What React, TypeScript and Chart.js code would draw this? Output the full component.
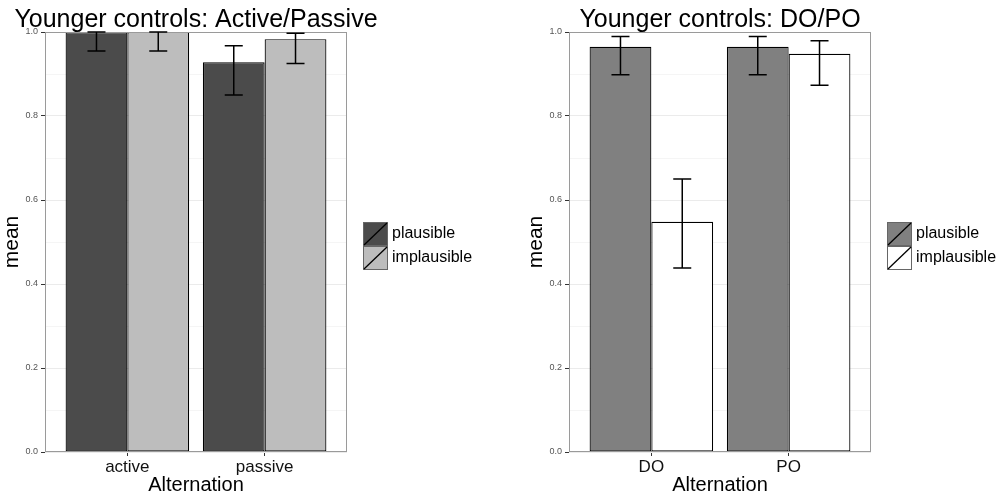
import React, { useEffect, useRef } from 'react';
import { Chart, registerables } from 'chart.js';

Chart.register(...registerables);

// ---------- data ----------
const seriesNames = ['plausible', 'implausible'];
const yTickValues = [0, 0.2, 0.4, 0.6, 0.8, 1.0];
const yMinorValues = [0.1, 0.3, 0.5, 0.7, 0.9];

// Panel 1: Active / Passive
const titleAP = 'Younger controls: Active/Passive';
const alternationAP = ['active', 'passive'];
const plausibleAP = [1.0, 0.928];
const plausibleAPLow = [0.955, 0.85];
const plausibleAPHigh = [1.0, 0.967];
const implausibleAP = [1.0, 0.983];
const implausibleAPLow = [0.955, 0.925];
const implausibleAPHigh = [1.0, 0.997];

// Panel 2: DO / PO
const titleDP = 'Younger controls: DO/PO';
const alternationDP = ['DO', 'PO'];
const plausibleDP = [0.965, 0.965];
const plausibleDPLow = [0.898, 0.898];
const plausibleDPHigh = [0.989, 0.989];
const implausibleDP = [0.548, 0.948];
const implausibleDPLow = [0.438, 0.873];
const implausibleDPHigh = [0.65, 0.979];

const FONT = '"Liberation Sans", Arial, Helvetica, sans-serif';

type PanelProps = {
  title: string;
  categories: string[];
  values: number[][];
  lows: number[][];
  highs: number[][];
  colors: string[];
  left: number;
  width: number;
};

const isMajor = (v: number) => Math.round(v * 10) % 2 === 0;

function Panel({ title, categories, values, lows, highs, colors, left, width }: PanelProps) {
  const ref = useRef<HTMLCanvasElement | null>(null);

  useEffect(() => {
    if (!ref.current) return;
    const plotRight = 347;

    const decorPlugin = {
      id: 'decor',
      afterDatasetsDraw(chart: any) {
        const { ctx, chartArea } = chart;
        const ys = chart.scales.y;
        // panel border
        ctx.save();
        ctx.strokeStyle = '#9a9a9a';
        ctx.lineWidth = 1;
        ctx.strokeRect(chartArea.left + 0.5, chartArea.top + 0.5, chartArea.right - chartArea.left - 1, chartArea.bottom - chartArea.top - 1);
        // error bars
        ctx.strokeStyle = '#000';
        ctx.lineWidth = 1.5;
        const half = 9;
        chart.data.datasets.forEach((_: any, d: number) => {
          const meta = chart.getDatasetMeta(d);
          meta.data.forEach((bar: any, i: number) => {
            const x = bar.x;
            const yl = ys.getPixelForValue(lows[d][i]);
            const yh = ys.getPixelForValue(highs[d][i]);
            ctx.beginPath();
            ctx.moveTo(x, yl);
            ctx.lineTo(x, yh);
            ctx.moveTo(x - half, yl);
            ctx.lineTo(x + half, yl);
            ctx.moveTo(x - half, yh);
            ctx.lineTo(x + half, yh);
            ctx.stroke();
          });
        });
        ctx.restore();
      },
      afterDraw(chart: any) {
        const { ctx, chartArea } = chart;
        ctx.save();
        // title
        ctx.fillStyle = '#000';
        ctx.font = `25px ${FONT}`;
        ctx.textAlign = 'center';
        ctx.textBaseline = 'alphabetic';
        ctx.fillText(title, (chartArea.left + chartArea.right) / 2, 27);
        // legend
        const kx = chartArea.right + 16;
        const ky = 222;
        const kw = 25;
        const kh = 24;
        chart.data.datasets.forEach((ds: any, d: number) => {
          const y0 = ky + d * kh;
          ctx.fillStyle = ds.backgroundColor;
          ctx.fillRect(kx, y0, kw, kh);
          ctx.strokeStyle = '#666';
          ctx.lineWidth = 1;
          ctx.strokeRect(kx + 0.5, y0 + 0.5, kw - 1, kh - 1);
          ctx.strokeStyle = '#000';
          ctx.lineWidth = 1.3;
          ctx.beginPath();
          ctx.moveTo(kx + 1, y0 + kh - 1);
          ctx.lineTo(kx + kw - 1, y0 + 1);
          ctx.stroke();
          ctx.fillStyle = '#000';
          ctx.font = `16px ${FONT}`;
          ctx.textAlign = 'left';
          ctx.textBaseline = 'middle';
          ctx.fillText(ds.label, kx + kw + 4, y0 + kh / 2);
        });
        ctx.restore();
      },
    };

    const chart = new Chart(ref.current, {
      type: 'bar',
      data: {
        datasets: seriesNames.map((name, d) => ({
          label: name,
          data: values[d].map((v, i) => ({ x: i, y: v })),
          backgroundColor: colors[d],
          borderColor: '#000',
          borderWidth: 1.2,
          borderSkipped: false,
          categoryPercentage: 0.9,
          barPercentage: 1.0,
        })),
      },
      options: {
        animation: false,
        responsive: true,
        maintainAspectRatio: false,
        layout: { padding: { top: 32, right: width - plotRight, bottom: 0, left: 0 } },
        plugins: {
          legend: { display: false },
          title: { display: false },
          tooltip: { enabled: false },
        },
        scales: {
          x: {
            type: 'linear',
            min: -0.6,
            max: 1.6,
            offset: false,
            afterBuildTicks: (scale: any) => {
              scale.ticks = categories.map((_, i) => ({ value: i }));
            },
            afterFit: (scale: any) => {
              scale.height = 46;
            },
            ticks: {
              callback: (v: any) => categories[Math.round(Number(v))] ?? '',
              color: '#111',
              font: { family: FONT, size: 17 },
              padding: 1,
              maxRotation: 0,
              autoSkip: false,
            },
            grid: {
              offset: false,
              drawOnChartArea: false,
              drawTicks: true,
              tickLength: 4,
              tickColor: '#333',
            },
            border: { display: false },
            title: {
              display: true,
              text: 'Alternation',
              color: '#000',
              font: { family: FONT, size: 20 },
              padding: { top: 0, bottom: 1 },
            },
          },
          y: {
            type: 'linear',
            min: 0,
            max: 1,
            afterBuildTicks: (scale: any) => {
              scale.ticks = [...yTickValues, ...yMinorValues]
                .sort((a, b) => a - b)
                .map((v) => ({ value: v }));
            },
            afterFit: (scale: any) => {
              scale.width = 45;
            },
            ticks: {
              callback: (v: any) => (isMajor(Number(v)) ? Number(v).toFixed(1) : ''),
              color: '#555',
              font: { family: FONT, size: 9 },
              padding: 3,
              autoSkip: false,
            },
            grid: {
              color: (c: any) => (isMajor(c.tick.value) ? '#ebebeb' : '#f5f5f5'),
              tickColor: (c: any) => (isMajor(c.tick.value) ? '#333' : 'rgba(0,0,0,0)'),
              tickLength: 4,
              lineWidth: 1,
            },
            border: { display: false },
            title: {
              display: true,
              text: 'mean',
              color: '#000',
              font: { family: FONT, size: 21 },
              padding: { top: 0, bottom: 0 },
            },
          },
        },
      },
      plugins: [decorPlugin],
    } as any);

    return () => chart.destroy();
  }, []);

  return (
    <div style={{ position: 'absolute', left, top: 0, width, height: 498 }}>
      <canvas ref={ref} />
    </div>
  );
}

export default function App() {
  return (
    <div style={{ position: 'absolute', left: 0, top: 0, width: 1004, height: 498, background: '#fff', overflow: 'hidden' }}>
      <Panel
        title={titleAP}
        categories={alternationAP}
        values={[plausibleAP, implausibleAP]}
        lows={[plausibleAPLow, implausibleAPLow]}
        highs={[plausibleAPHigh, implausibleAPHigh]}
        colors={['#4b4b4b', '#bdbdbd']}
        left={0}
        width={500}
      />
      <Panel
        title={titleDP}
        categories={alternationDP}
        values={[plausibleDP, implausibleDP]}
        lows={[plausibleDPLow, implausibleDPLow]}
        highs={[plausibleDPHigh, implausibleDPHigh]}
        colors={['#808080', '#ffffff']}
        left={524}
        width={480}
      />
    </div>
  );
}
